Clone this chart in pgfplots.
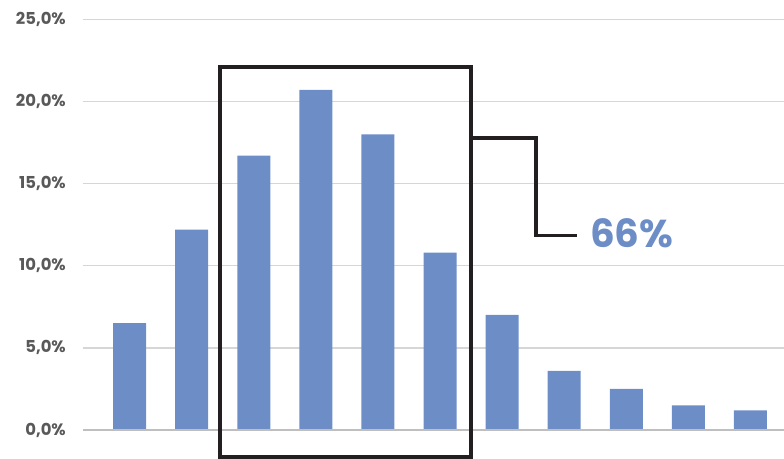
\documentclass[border=0pt]{standalone}
\usepackage{fontspec}
\setmainfont{Poppins}
\usepackage{pgfplots}
\pgfplotsset{compat=1.18}
\definecolor{barblue}{RGB}{109,141,199}
\definecolor{tickgray}{RGB}{89,89,89}
\definecolor{gridgray}{RGB}{214,214,214}
\definecolor{basegray}{RGB}{191,191,191}
\definecolor{boxblack}{RGB}{35,31,32}
\begin{document}
\begin{tikzpicture}[x=1bp,y=1bp]
\path[use as bounding box] (0,0) rectangle (784,459);
\begin{axis}[
  at={(83bp,29bp)}, anchor=south west,
  scale only axis, width=701bp, height=410.7bp,
  xmin=0.25, xmax=11.54, ymin=0, ymax=25,
  axis line style={draw=none},
  xtick=\empty,
  ytick={0,5,10,15,20,25},
  yticklabels={{0,0\%},{5,0\%},{10,0\%},{15,0\%},{20,0\%},{25,0\%}},
  major tick length=0pt,
  ymajorgrids, grid style={gridgray, line width=1.4bp},
  yticklabel style={font=\fontsize{16.5}{19}\selectfont\bfseries, text=tickgray, anchor=east, inner sep=0pt, xshift=-17bp},
  clip=false,
]
\addplot[ybar, bar width=33bp, fill=barblue, draw=none] coordinates {
(1,6.5) (2,12.2) (3,16.7) (4,20.7) (5,18.0) (6,10.8) (7,7.0) (8,3.6) (9,2.5) (10,1.5) (11,1.2)};
\draw[basegray, line width=1.5bp] (axis cs:0.25,0) -- (axis cs:11.54,0);
\end{axis}
\draw[boxblack, line width=4bp] (219.5,392) rectangle (471.3,2.3);
\draw[boxblack, line width=3.5bp] (473,321) -- (536,321) -- (536,223.3) -- (577,223.3);
\node[anchor=base west, inner sep=0pt, text=barblue, font=\fontsize{39}{44}\selectfont\bfseries] at (590,211) {66\%};
\end{tikzpicture}
\end{document}
